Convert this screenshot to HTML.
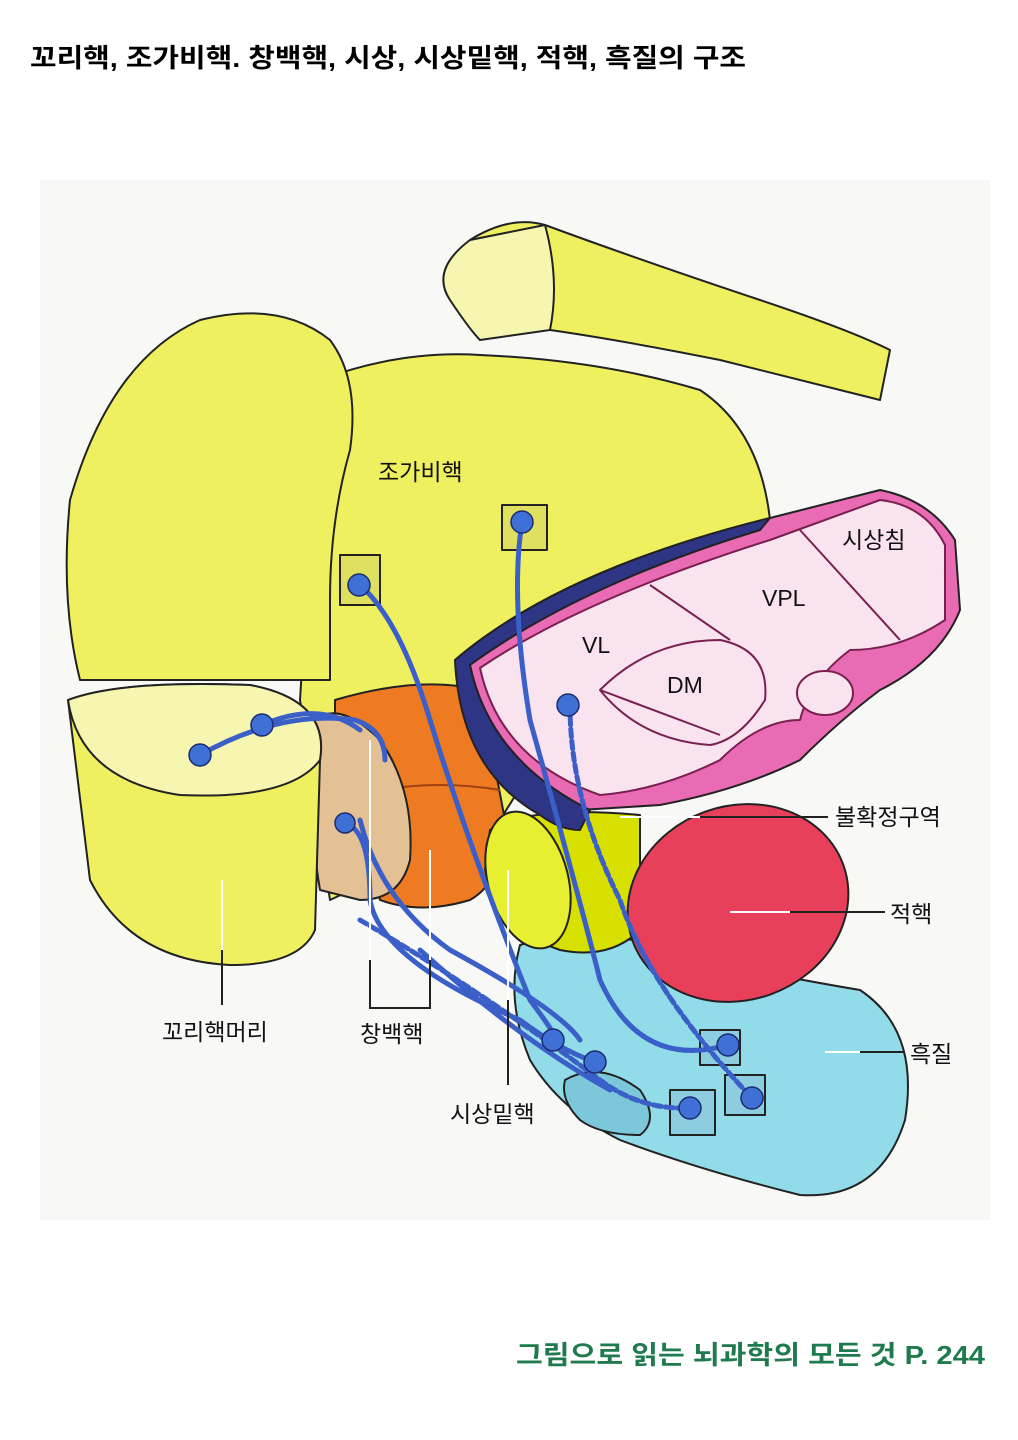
<!DOCTYPE html>
<html><head><meta charset="utf-8"><style>
html,body{margin:0;padding:0;background:#fff}
svg{display:block}
text{font-family:"Liberation Sans","Noto Sans CJK KR",sans-serif}
</style></head><body>
<svg width="1018" height="1440" viewBox="0 0 1018 1440" xmlns="http://www.w3.org/2000/svg">
<rect width="1018" height="1440" fill="#fff"/>
<rect x="40" y="180" width="950" height="1040" fill="#f8f8f6"/>
<text x="30" y="67" font-size="26" font-weight="bold" fill="#000" textLength="716" lengthAdjust="spacingAndGlyphs">꼬리핵, 조가비핵. 창백핵, 시상, 시상밑핵,  적핵, 흑질의 구조</text>
<text x="516" y="1364" font-size="26" font-weight="bold" fill="#1f7a4d" textLength="469" lengthAdjust="spacingAndGlyphs">그림으로 읽는 뇌과학의 모든 것 P.  244</text>

<g stroke="#222" stroke-width="2" stroke-linejoin="round">
<!-- tail band -->
<path d="M470 240 Q510 215 545 225 Q640 260 760 300 Q850 330 890 350 L880 400 Q800 380 720 360 Q620 340 550 330 Q500 330 480 300 Q470 290 470 240Z" fill="#eef060"/>
<path d="M470 240 Q430 270 450 300 Q470 330 480 340 L550 330 Q560 280 545 225Z" fill="#f7f6b0"/>
<!-- main putamen -->
<path d="M320 380 Q400 350 480 355 Q600 360 700 390 Q760 430 770 520 L770 600 L600 660 L500 820 L330 900 L300 700 Z" fill="#eef060"/>
<!-- left lobe -->
<path d="M70 500 Q110 360 200 320 Q280 300 330 340 Q360 380 350 450 Q330 520 330 600 L330 680 L80 680 Q60 600 70 500Z" fill="#eef060"/>
<!-- orange globus pallidus -->
<path d="M335 700 Q420 675 480 690 L505 820 Q505 880 470 900 Q420 915 380 900 L335 760Z" fill="#ee7a22"/>
<path d="M380 790 Q440 780 500 790" fill="none" stroke="#a04010"/>
<!-- beige -->
<path d="M315 720 Q340 700 380 740 Q415 790 410 860 Q400 900 360 900 L320 890 Q305 800 315 720Z" fill="#e4c095"/>
<!-- caudate head cylinder -->
<path d="M68 700 L90 880 Q130 960 230 965 Q300 965 315 930 L320 760 Q330 700 250 685 Q120 680 68 700Z" fill="#eef060"/>
<path d="M68 700 Q80 780 180 795 Q290 800 320 760 Q330 700 250 685 Q120 680 68 700Z" fill="#f7f6b0"/>
<!-- substantia nigra -->
<path d="M520 945 Q600 920 700 960 Q800 980 860 990 Q920 1030 905 1120 Q880 1200 800 1195 Q700 1170 620 1140 Q560 1110 530 1060 Q505 1000 520 945Z" fill="#92dbe9"/>
<path d="M565 1080 Q600 1060 640 1090 Q660 1120 640 1135 Q600 1135 580 1120 Q560 1100 565 1080Z" fill="#7cc8da"/>
<!-- subthalamic -->
<path d="M490 830 Q530 805 640 815 L640 930 Q610 960 560 950 Q500 930 485 870Z" fill="#d8e000"/>
<ellipse cx="528" cy="880" rx="40" ry="70" fill="#e8ee30" transform="rotate(-15 528 880)"/>
<!-- red nucleus -->
<ellipse cx="738" cy="903" rx="112" ry="97" fill="#e8405a" transform="rotate(-20 738 903)"/>
<!-- thalamus -->
<path d="M455 660 Q560 570 770 518 Q860 495 880 490 Q930 500 955 540 L960 610 Q940 660 880 690 Q840 720 800 760 Q740 790 660 805 L580 810 Q470 760 455 660Z" fill="#e86bb3"/>
<path d="M455 660 Q560 570 770 518 L760 530 Q580 585 470 665 Q490 760 590 810 L580 830 Q560 830 540 815 Q460 770 455 660Z" fill="#2f3585"/>
<path d="M480 668 Q580 600 770 540 L880 500 Q925 505 945 545 L945 620 Q900 650 850 650 Q810 680 800 720 Q760 720 720 760 Q660 790 600 795 Q500 760 480 668Z" fill="#f9e3ef" stroke="#7a2050"/>
<path d="M650 585 L730 640 M800 530 L900 640 M600 690 Q650 640 720 640 Q770 650 765 700 Q740 740 710 745 Q640 740 600 690 L720 735" fill="none" stroke="#7a2050" stroke-width="2"/>
<ellipse cx="825" cy="693" rx="28" ry="22" fill="#f9e3ef" stroke="#7a2050"/>
<rect x="340" y="555" width="40" height="50" fill="#e0e060"/>
<rect x="502" y="505" width="45" height="45" fill="#e0e060"/>
<rect x="700" y="1030" width="40" height="35" fill="#8ccde0"/>
<rect x="725" y="1075" width="40" height="40" fill="#8ccde0"/>
<rect x="670" y="1090" width="45" height="45" fill="#8ccde0"/>
</g>

<g fill="none" stroke="#3a5fc8" stroke-width="5" stroke-linecap="round">
<path d="M360 585 Q400 620 430 720 Q470 850 530 1000 Q560 1040 555 1040"/>
<path d="M522 522 Q510 600 530 720 Q580 900 600 980 Q640 1070 728 1045"/>
<path d="M570 705 Q570 800 620 900 Q650 990 752 1098" stroke-dasharray="8 4"/>
<path d="M200 755 Q280 710 355 720 Q385 730 385 760"/>
<path d="M262 725 Q320 700 360 730"/>
<path d="M345 823 Q370 830 370 900 Q380 960 520 1020 Q560 1050 595 1062"/>
<path d="M360 820 Q380 900 450 950 Q560 1010 580 1040"/>
<path d="M360 920 Q480 990 600 1080 Q640 1110 690 1108" stroke-dasharray="8 4"/>
<path d="M420 950 Q520 1040 610 1090"/>
</g>
<g fill="#3f70d5" stroke="#1b2c70" stroke-width="1.5">
<circle cx="359" cy="585" r="11"/><circle cx="522" cy="522" r="11"/><circle cx="568" cy="705" r="11"/>
<circle cx="200" cy="755" r="11"/><circle cx="262" cy="725" r="11"/><circle cx="345" cy="823" r="10"/>
<circle cx="553" cy="1040" r="11"/><circle cx="595" cy="1062" r="11"/><circle cx="728" cy="1045" r="11"/>
<circle cx="752" cy="1098" r="11"/><circle cx="690" cy="1108" r="11"/>
</g>

<g stroke="#fff" stroke-width="2" fill="none">
<path d="M222 880 L222 950"/><path d="M370 740 L370 960 M430 850 L430 960"/><path d="M508 870 L508 1000"/>
<path d="M620 817 L700 817"/><path d="M730 912 L790 912"/><path d="M825 1052 L860 1052"/>
</g>
<g stroke="#222" stroke-width="2" fill="none">
<path d="M222 950 L222 1005"/><path d="M370 960 L370 1008 L430 1008 L430 960"/><path d="M508 1000 L508 1085"/>
<path d="M700 817 L828 817"/><path d="M790 912 L885 912"/><path d="M860 1052 L905 1052"/>
</g>
<g font-size="23" fill="#111">
<text x="378" y="480">조가비핵</text>
<text x="842" y="548">시상침</text>
<text x="762" y="606">VPL</text>
<text x="582" y="653">VL</text>
<text x="667" y="693">DM</text>
<text x="835" y="825">불확정구역</text>
<text x="890" y="922">적핵</text>
<text x="910" y="1062">흑질</text>
<text x="162" y="1040">꼬리핵머리</text>
<text x="360" y="1042">창백핵</text>
<text x="450" y="1122">시상밑핵</text>
</g>
</svg>
</body></html>
